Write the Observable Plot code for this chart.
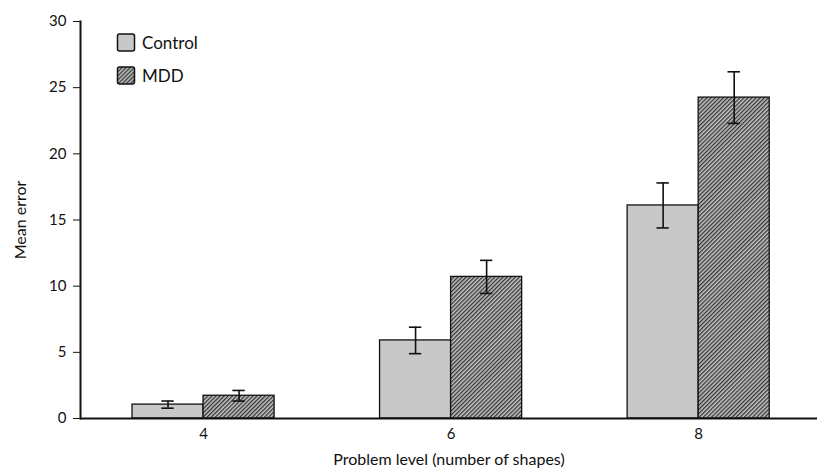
<!DOCTYPE html>
<html>
<head>
<meta charset="utf-8">
<script src="https://cdn.jsdelivr.net/npm/d3@7"></script>
<script src="https://cdn.jsdelivr.net/npm/@observablehq/plot@0.6"></script>
<style>
  body { margin: 0; background: #fff; }
  #wrap { position: relative; width: 817px; height: 471px; }
  #legend { position: absolute; left: 0; top: 0; }
  svg text { font-family: Lato, "Open Sans", sans-serif; }
</style>
</head>
<body>
<div id="wrap"></div>
<script>
const levels = [4, 6, 8];
const groups = ["Control", "MDD"];
const controlMean = [1.05, 5.9, 16.1];
const controlErr = [0.27, 1.0, 1.7];
const mddMean = [1.72, 10.7, 24.25];
const mddErr = [0.4, 1.25, 1.95];
const yTicks = [0, 5, 10, 15, 20, 25, 30];

const half = 0.574; // bar width in level units
const rows = [];
levels.forEach((lv, i) => {
  rows.push({level: lv, group: groups[0], mean: controlMean[i], err: controlErr[i], x1: lv - half, x2: lv, c: lv - half / 2});
  rows.push({level: lv, group: groups[1], mean: mddMean[i], err: mddErr[i], x1: lv, x2: lv + half, c: lv + half / 2});
});
const fillFor = g => g === "Control" ? "#c8c8c8" : "url(#hatch)";

const chart = Plot.plot({
  width: 817,
  height: 471,
  marginLeft: 80,
  marginRight: 0,
  marginTop: 21,
  marginBottom: 53,
  style: {fontFamily: "Lato, 'Open Sans', sans-serif", fontSize: "15px", color: "#111", background: "#fff"},
  x: {type: "linear", domain: [3.006, 8.96]},
  y: {domain: [0, 30]},
  marks: [
    Plot.rectY(rows, {x1: "x1", x2: "x2", y1: 0, y2: "mean", fill: d => fillFor(d.group), stroke: "#111", strokeWidth: 1.3}),
    Plot.ruleX(rows, {x: "c", y1: d => d.mean - d.err, y2: d => d.mean + d.err, stroke: "#111", strokeWidth: 1.6}),
    Plot.ruleY(rows, {y: d => d.mean + d.err, x1: d => d.c - 0.05, x2: d => d.c + 0.05, stroke: "#111", strokeWidth: 1.6}),
    Plot.ruleY(rows, {y: d => d.mean - d.err, x1: d => d.c - 0.05, x2: d => d.c + 0.05, stroke: "#111", strokeWidth: 1.6}),
    Plot.ruleY([0], {stroke: "#111", strokeWidth: 2}),
    Plot.frame({anchor: "left", stroke: "#111", strokeWidth: 2}),
    Plot.axisX({ticks: levels, tickFormat: d => String(d), tickSize: 0, tickPadding: 10, label: "Problem level (number of shapes)", labelAnchor: "center", labelOffset: 46, labelArrow: "none", fontSize: 15}),
    Plot.axisY({ticks: yTicks, tickFormat: d => String(d), tickSize: 7, tickPadding: 7, tickStrokeWidth: 2, label: "Mean error", labelAnchor: "center", labelOffset: 66, labelArrow: "none", fontSize: 15})
  ]
});

// enlarge axis titles slightly
chart.querySelectorAll("g[aria-label='x-axis label'] text, g[aria-label='y-axis label'] text").forEach(t => t.setAttribute("font-size", 16));

const wrap = document.getElementById("wrap");
wrap.appendChild(chart);

// Legend overlay (inside plot area, top-left)
const ns = "http://www.w3.org/2000/svg";
const leg = document.createElementNS(ns, "svg");
leg.setAttribute("id", "legend");
leg.setAttribute("width", 260);
leg.setAttribute("height", 100);
leg.innerHTML = `
<defs>
  <pattern id="hatch" patternUnits="userSpaceOnUse" width="2.9" height="2.9" patternTransform="rotate(45)">
    <rect width="2.9" height="2.9" fill="#c4c4c4"></rect>
    <rect width="1.3" height="2.9" fill="#333"></rect>
  </pattern>
</defs>`;
groups.forEach((g, i) => {
  const y = 34 + i * 33;
  const r = document.createElementNS(ns, "rect");
  r.setAttribute("x", 117.5); r.setAttribute("y", y);
  r.setAttribute("width", 17); r.setAttribute("height", 17);
  r.setAttribute("rx", 2);
  r.setAttribute("fill", fillFor(g)); r.setAttribute("stroke", "#111"); r.setAttribute("stroke-width", 1.5);
  leg.appendChild(r);
  const t = document.createElementNS(ns, "text");
  t.setAttribute("x", 142); t.setAttribute("y", y + 14.5);
  t.setAttribute("font-size", 17); t.setAttribute("fill", "#111");
  t.textContent = g;
  leg.appendChild(t);
});
wrap.appendChild(leg);
</script>
</body>
</html>
